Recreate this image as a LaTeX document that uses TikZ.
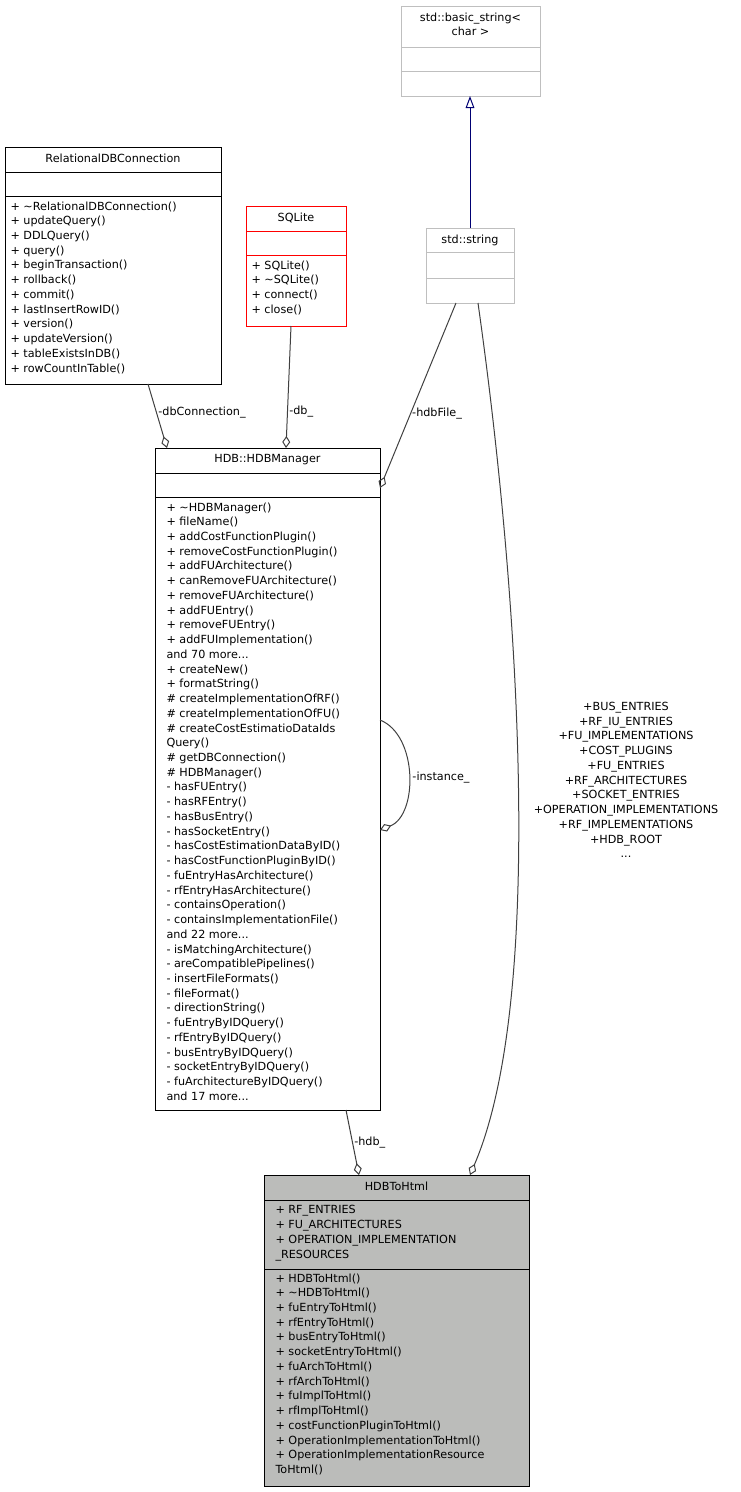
\documentclass[tikz,border=0pt]{standalone}
\usepackage{fontspec}
\setmainfont{DejaVu Sans}
\usetikzlibrary{arrows.meta,calc}
\begin{document}
\begin{tikzpicture}[x=0.75pt,y=-0.75pt,line width=0.75pt,
  cls/.style={draw,anchor=north west,inner sep=0pt,outer sep=0pt},
  txt/.style={anchor=north west,inner sep=0pt,align=left,font=\fontsize{8.4}{11.05}\selectfont},
  ttl/.style={anchor=north,inner sep=0pt,align=center,font=\fontsize{8.4}{11.05}\selectfont},
  lbl/.style={inner sep=1pt,align=center,font=\fontsize{8.4}{11.05}\selectfont},
  agg/.style={draw=black!75,-{Diamond[open,length=9pt,width=6pt]}},
  inh/.style={draw=blue!45!black,-{Triangle[open,length=9pt,width=6.5pt]}}]
\useasboundingbox (0,0) rectangle (741,1492);
\definecolor{gr}{RGB}{191,191,191}
\definecolor{fillg}{RGB}{187,188,186}
% std::basic_string
\node[cls,draw=gr,minimum width=104.25pt,minimum height=67.5pt] (bs) at (401,6) {};
\draw[gr] (401,47) -- (540,47) (401,71) -- (540,71);
\node[ttl] (bst) at (470.5,12) {std::basic\_string<\\char >};
% RelationalDBConnection
\node[cls,minimum width=162pt,minimum height=177.75pt] (rdb) at (5,147) {};
\draw (5,172) -- (221,172) (5,196) -- (221,196);
\node[ttl] (rdbt) at (113,153) {RelationalDBConnection};
\node[txt] (rdbm) at (10,201) {+ \textasciitilde RelationalDBConnection()\\+ updateQuery()\\+ DDLQuery()\\+ query()\\+ beginTransaction()\\+ rollback()\\+ commit()\\+ lastInsertRowID()\\+ version()\\+ updateVersion()\\+ tableExistsInDB()\\+ rowCountInTable()};
% SQLite
\node[cls,draw=red,minimum width=75pt,minimum height=90pt] (sq) at (246,206) {};
\draw[red] (246,231) -- (346,231) (246,255) -- (346,255);
\node[ttl] (sqt) at (296,212) {SQLite};
\node[txt] (sqm) at (251,260) {+ SQLite()\\+ \textasciitilde SQLite()\\+ connect()\\+ close()};
% std::string
\node[cls,draw=gr,minimum width=66pt,minimum height=56.25pt] (ss) at (426,228) {};
\draw[gr] (426,252) -- (514,252) (426,278) -- (514,278);
\node[ttl] (sst) at (470,234) {std::string};
% HDBManager
\node[cls,minimum width=168.75pt,minimum height=496.5pt] (hm) at (155,448) {};
\draw (155,473) -- (380,473) (155,497) -- (380,497);
\node[ttl] (hmt) at (267.5,454) {HDB::HDBManager};
\node[txt] (hmm) at (166,502) {+ \textasciitilde HDBManager()\\+ fileName()\\+ addCostFunctionPlugin()\\+ removeCostFunctionPlugin()\\+ addFUArchitecture()\\+ canRemoveFUArchitecture()\\+ removeFUArchitecture()\\+ addFUEntry()\\+ removeFUEntry()\\+ addFUImplementation()\\and 70 more...\\+ createNew()\\+ formatString()\\\# createImplementationOfRF()\\\# createImplementationOfFU()\\\# createCostEstimatioDataIds\\Query()\\\# getDBConnection()\\\# HDBManager()\\- hasFUEntry()\\- hasRFEntry()\\- hasBusEntry()\\- hasSocketEntry()\\- hasCostEstimationDataByID()\\- hasCostFunctionPluginByID()\\- fuEntryHasArchitecture()\\- rfEntryHasArchitecture()\\- containsOperation()\\- containsImplementationFile()\\and 22 more...\\- isMatchingArchitecture()\\- areCompatiblePipelines()\\- insertFileFormats()\\- fileFormat()\\- directionString()\\- fuEntryByIDQuery()\\- rfEntryByIDQuery()\\- busEntryByIDQuery()\\- socketEntryByIDQuery()\\- fuArchitectureByIDQuery()\\and 17 more...};
% HDBToHtml
\node[cls,fill=fillg,minimum width=198.75pt,minimum height=233.25pt] (hh) at (264,1175) {};
\draw (264,1200) -- (529,1200) (264,1269) -- (529,1269);
\node[ttl] (hht) at (396.5,1181) {HDBToHtml};
\node[txt] (hha) at (275,1205) {+ RF\_ENTRIES\\+ FU\_ARCHITECTURES\\+ OPERATION\_IMPLEMENTATION\\\_RESOURCES};
\node[txt] (hhm) at (275,1273) {+ HDBToHtml()\\+ \textasciitilde HDBToHtml()\\+ fuEntryToHtml()\\+ rfEntryToHtml()\\+ busEntryToHtml()\\+ socketEntryToHtml()\\+ fuArchToHtml()\\+ rfArchToHtml()\\+ fuImplToHtml()\\+ rfImplToHtml()\\+ costFunctionPluginToHtml()\\+ OperationImplementationToHtml()\\+ OperationImplementationResource\\ToHtml()};
% connectors
\coordinate (ssTop) at (470,228);
\coordinate (bsBot) at (470,96);
\draw[inh] (ssTop) -- (bsBot);
\coordinate (r1) at (148,384); \coordinate (h1) at (167,448);
\draw[agg] (r1) -- node[lbl,right,pos=0.45] {-dbConnection\_} (h1);
\coordinate (s1) at (291,326); \coordinate (h2) at (286,448);
\draw[agg] (s1) -- node[lbl,right,pos=0.7] {-db\_} (h2);
\coordinate (t1) at (456,303); \coordinate (h3) at (380,488);
\draw[agg] (t1) -- node[lbl,pos=0.6,right] {-hdbFile\_} (h3);
\coordinate (l1) at (380,720); \coordinate (l2) at (380,830);
\draw[agg] (l1) .. controls (418,735) and (418,815) .. (l2);
\node[lbl] (il) at (441,778) {-instance\_};
\coordinate (m1) at (346,1110); \coordinate (hh1) at (359,1175);
\draw[agg] (m1) -- node[lbl,right] {-hdb\_} (hh1);
\coordinate (t2) at (478,303); \coordinate (hh2) at (470,1175);
\draw[agg] (t2) .. controls (520,600) and (545,1000) .. (hh2);
\node[lbl] (cl) at (626,780) {+BUS\_ENTRIES\\+RF\_IU\_ENTRIES\\+FU\_IMPLEMENTATIONS\\+COST\_PLUGINS\\+FU\_ENTRIES\\+RF\_ARCHITECTURES\\+SOCKET\_ENTRIES\\+OPERATION\_IMPLEMENTATIONS\\+RF\_IMPLEMENTATIONS\\+HDB\_ROOT\\...};
\end{tikzpicture}
\end{document}
